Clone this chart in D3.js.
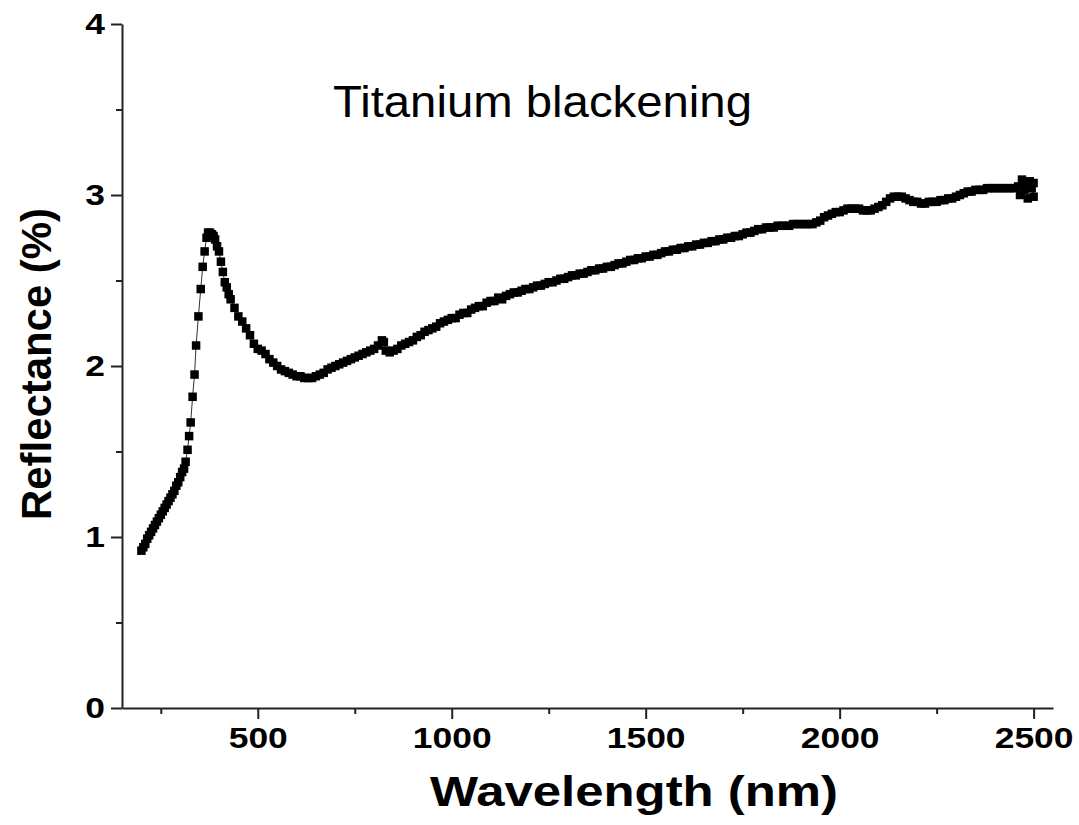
<!DOCTYPE html>
<html>
<head>
<meta charset="utf-8">
<script src="https://cdn.jsdelivr.net/npm/d3@7"></script>
<style>
  html, body { margin: 0; padding: 0; background: #fff; }
  svg { display: block; font-family: "Liberation Sans", Arial, sans-serif; }
</style>
</head>
<body>
<svg id="chart" width="1079" height="825"></svg>
<script>
// ---- data ----
const wavelength = [
  200,205,210,215,220,225,230,235,240,245,250,255,260,265,270,275,280,285,290,295,300,305,310,314,319,323,327,332,337,341,347,353,358,363,368,372,377,382,386,390,395,
  400,405,410,415,420,425,430,440,450,460,470,480,490,500,510,520,530,540,550,560,570,580,590,600,610,620,630,640,650,660,670,680,690,700,
  710,720,730,740,750,760,770,780,790,800,810,820,825,830,840,850,860,870,880,890,900,910,920,930,940,950,960,970,980,990,1000,
  1010,1020,1030,1040,1050,1060,1070,1080,1090,1100,1110,1120,1130,1140,1150,1160,1170,1180,1190,1200,
  1210,1220,1230,1240,1250,1260,1270,1280,1290,1300,1310,1320,1330,1340,1350,1360,1370,1380,1390,1400,
  1410,1420,1430,1440,1450,1460,1470,1480,1490,1500,1510,1520,1530,1540,1550,1560,1570,1580,1590,1600,
  1610,1620,1630,1640,1650,1660,1670,1680,1690,1700,1710,1720,1730,1740,1750,1760,1770,1780,1790,1800,
  1810,1820,1830,1840,1850,1860,1870,1880,1890,1900,1910,1920,1930,1940,1950,1960,1970,1980,1990,2000,
  2010,2020,2030,2040,2050,2060,2070,2080,2090,2100,2110,2120,2130,2140,2150,2160,2170,2180,2190,2200,
  2210,2220,2230,2240,2250,2260,2270,2280,2290,2300,2310,2320,2330,2340,2350,2360,2370,2380,2390,2400,
  2410,2420,2430,2440,2450,2460,2465,2470,2475,2480,2485,2490,2495,2500,2500
];
const reflectance = [
  0.92,0.94,0.96,0.99,1.01,1.03,1.05,1.07,1.09,1.11,1.13,1.15,1.17,1.19,1.21,1.23,1.25,1.27,1.30,1.32,1.35,1.38,1.40,1.44,1.51,1.59,1.67,1.82,1.95,2.12,2.29,2.45,2.58,2.67,2.75,2.78,2.78,2.77,2.76,2.74,2.70,
  2.67,2.61,2.55,2.49,2.46,2.42,2.39,2.34,2.29,2.26,2.22,2.18,2.13,2.10,2.09,2.07,2.04,2.02,2.00,1.98,1.97,1.96,1.95,1.94,1.94,1.93,1.93,1.93,1.94,1.95,1.96,1.98,1.99,2.00,
  2.01,2.02,2.03,2.04,2.05,2.06,2.07,2.08,2.09,2.10,2.12,2.15,2.14,2.09,2.08,2.09,2.10,2.12,2.13,2.14,2.15,2.17,2.18,2.20,2.21,2.22,2.23,2.25,2.26,2.27,2.28,
  2.28,2.30,2.31,2.31,2.33,2.34,2.35,2.35,2.37,2.38,2.38,2.40,2.39,2.41,2.42,2.43,2.43,2.44,2.45,2.45,
  2.46,2.47,2.47,2.48,2.49,2.49,2.50,2.51,2.51,2.52,2.53,2.53,2.54,2.54,2.55,2.56,2.56,2.57,2.57,2.58,
  2.58,2.59,2.60,2.60,2.61,2.62,2.62,2.63,2.63,2.64,2.64,2.65,2.65,2.66,2.67,2.67,2.68,2.68,2.69,2.69,
  2.70,2.70,2.71,2.71,2.72,2.72,2.73,2.73,2.74,2.74,2.75,2.75,2.76,2.76,2.77,2.78,2.78,2.79,2.80,2.80,
  2.81,2.81,2.81,2.82,2.82,2.82,2.82,2.83,2.83,2.83,2.83,2.83,2.83,2.84,2.85,2.87,2.88,2.89,2.90,2.90,
  2.91,2.92,2.92,2.92,2.92,2.91,2.91,2.91,2.92,2.93,2.94,2.96,2.98,2.99,2.99,2.99,2.98,2.97,2.96,2.96,
  2.95,2.95,2.96,2.96,2.96,2.97,2.97,2.98,2.98,2.99,3.00,3.01,3.02,3.02,3.03,3.03,3.03,3.04,3.04,3.04,
  3.04,3.04,3.04,3.04,3.04,3.05,3.00,3.09,3.03,3.06,2.98,3.08,3.04,2.99,3.07
];
const xTicks = [500, 1000, 1500, 2000, 2500];
const xMinorTicks = [250, 750, 1250, 1750, 2250];
const yTicks = [0, 1, 2, 3, 4];
const yMinorTicks = [0.5, 1.5, 2.5, 3.5];
const title = "Titanium blackening";
const xLabel = "Wavelength (nm)";
const yLabel = "Reflectance (%)";

// ---- drawing ----
const svg = d3.select("#chart");
const x = d3.scaleLinear().domain([150, 2550]).range([122, 1053]);
const y = d3.scaleLinear().domain([0, 4]).range([708, 24]);
const data = wavelength.map((w, i) => ({ w, r: reflectance[i] }));
const stretch = 1.18;

// minor ticks
svg.append("g").attr("transform", "translate(0,708)")
  .call(d3.axisBottom(x).tickValues(xMinorTicks).tickSize(6).tickFormat(""))
  .call(g => g.select(".domain").remove());
svg.append("g").attr("transform", "translate(122,0)")
  .call(d3.axisLeft(y).tickValues(yMinorTicks).tickSize(6).tickFormat(""))
  .call(g => g.select(".domain").remove());

// major axes
const xAxis = svg.append("g").attr("transform", "translate(0,708)")
  .call(d3.axisBottom(x).tickValues(xTicks).tickSize(11).tickSizeOuter(0).tickPadding(8).tickFormat(d3.format("d")));
const yAxis = svg.append("g").attr("transform", "translate(122,0)")
  .call(d3.axisLeft(y).tickValues(yTicks).tickSize(11).tickSizeOuter(0).tickPadding(6).tickFormat(d3.format("d")));

svg.selectAll(".domain, .tick line").attr("stroke", "#222").attr("stroke-width", 2);
xAxis.selectAll("text").attr("font-size", 30).attr("font-weight", "bold").attr("fill", "#000")
  .attr("font-family", "Liberation Sans, Arial, sans-serif")
  .attr("transform", `scale(${stretch},1)`);
yAxis.selectAll("text").attr("font-size", 30).attr("font-weight", "bold").attr("fill", "#000")
  .attr("font-family", "Liberation Sans, Arial, sans-serif").attr("dy", "0.33em")
  .attr("x", -17 / stretch).attr("transform", `scale(${stretch},1)`);

// connecting line
svg.append("path").datum(data)
  .attr("fill", "none").attr("stroke", "#333").attr("stroke-width", 1)
  .attr("d", d3.line().x(d => x(d.w)).y(d => y(d.r)));

// square markers
const s = 8.5;
svg.append("g").selectAll("rect").data(data).join("rect")
  .attr("x", d => x(d.w) - s / 2).attr("y", d => y(d.r) - s / 2)
  .attr("width", s).attr("height", s).attr("fill", "#000");

// texts
svg.append("text").attr("x", 333).attr("y", 117).attr("font-size", 44)
  .attr("textLength", 419).attr("lengthAdjust", "spacingAndGlyphs")
  .attr("fill", "#000").text(title);
svg.append("text").attr("x", 430).attr("y", 806)
  .attr("textLength", 408).attr("lengthAdjust", "spacingAndGlyphs")
  .attr("font-size", 42).attr("font-weight", "bold").attr("fill", "#000").text(xLabel);
svg.append("text").attr("transform", "translate(51,520) rotate(-90)")
  .attr("textLength", 312).attr("lengthAdjust", "spacingAndGlyphs")
  .attr("font-size", 42).attr("font-weight", "bold").attr("fill", "#000").text(yLabel);
</script>
</body>
</html>
